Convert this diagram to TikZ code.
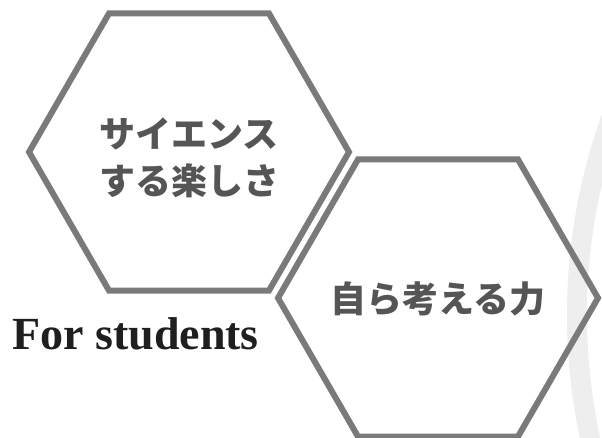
\documentclass[tikz,border=0pt]{standalone}
\usepackage{fontspec}
\setmainfont{Liberation Serif}
\newfontfamily\jpfont{Noto Sans CJK JP}
\usetikzlibrary{
  shapes.geometric, % Shape "regular polygon"
  positioning,
  calc,
}
\definecolor{hexgray}{HTML}{7A7A7A}
\definecolor{txtgray}{HTML}{555555}
\definecolor{bandgray}{HTML}{EEEEEE}
\def\myhexsize{320pt}
\def\myhexline{6pt}
\tikzset{
  x=1pt,
  y=-1pt,
  my hex/.style={
    regular polygon,
    regular polygon sides=6,
    draw=hexgray,
    line width=\myhexline,
    minimum size=\myhexsize,
    inner sep=0pt
  },
  my jp/.style={
    font=\jpfont\bfseries\fontsize{36pt}{47pt}\selectfont,
    text=txtgray,
    align=center,
    inner sep=0pt
  },
  my title/.style={
    font=\bfseries\fontsize{46pt}{52pt}\selectfont,
    text=black!88,
    inner sep=0pt
  }
}

\begin{document}
\begin{tikzpicture}
\useasboundingbox (0,0) rectangle (602,438);
% faint band on the right
\begin{scope}
  \clip (0,0) rectangle (602,438);
  \draw[bandgray,line width=20pt] (1160,315) circle[radius=583];
\end{scope}
\node[my hex]  (sci)   at (189,152) {};
\node[my hex]  (think) at (438,298) {};
\node[my jp]   (scitxt)   at ([yshift=-6pt]sci.center)  {サイエンス\\する楽しさ};
\node[my jp]   (thinktxt) at ([yshift=-1pt]think.center) {自ら考える力};
\node[my title,anchor=base west] (students) at (12,349) {For students};
\end{tikzpicture}
\end{document}
